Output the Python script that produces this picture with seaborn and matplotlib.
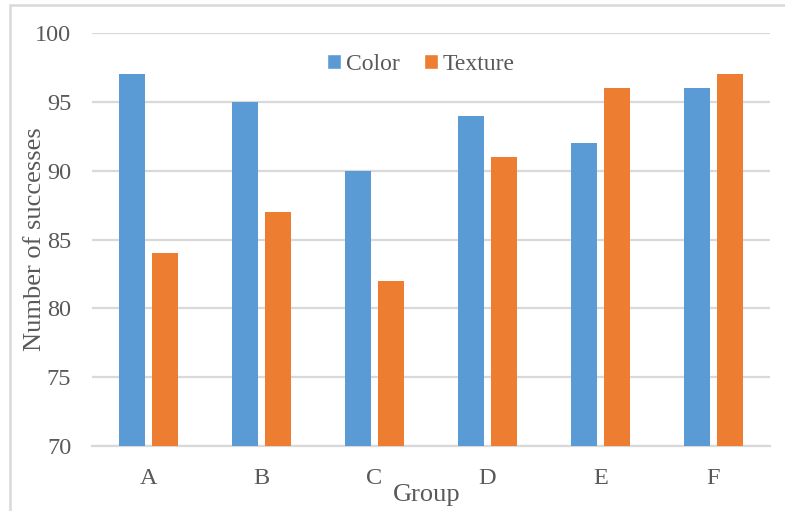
#!/usr/bin/env python3
"""Grouped bar chart: number of successes by group, Color vs Texture."""

import numpy as np
import pandas as pd
import matplotlib.pyplot as plt
import matplotlib.patches as mpatches
import seaborn as sns

# ── data ────────────────────────────────────────────────────────────
groups = ["A", "B", "C", "D", "E", "F"]
color_vals = [97, 95, 90, 94, 92, 96]
texture_vals = [84, 87, 82, 91, 96, 97]
series = ["Color", "Texture"]

df = pd.DataFrame(
    {
        "Group": groups * 2,
        "Series": ["Color"] * len(groups) + ["Texture"] * len(groups),
        "Value": color_vals + texture_vals,
    }
)

# ── style ───────────────────────────────────────────────────────────
palette = {"Color": "#5B9BD5", "Texture": "#ED7D31"}
grid_col = "#D9D9D9"
text_col = "#595959"

sns.set_style("white")
plt.rcParams["font.family"] = ["Liberation Serif", "DejaVu Serif"]

fig = plt.figure(figsize=(7.85, 5.11), dpi=100)
ax = fig.add_axes([92 / 785, 1 - 446 / 511, (770 - 92) / 785, (446 - 33) / 511])

sns.barplot(
    data=df,
    x="Group",
    y="Value",
    hue="Series",
    palette=palette,
    saturation=1,
    width=0.575,
    gap=0.185,
    linewidth=0,
    ax=ax,
    legend=False,
    zorder=3,
)

# bars start from the axis floor (70), as in the original
for p in ax.patches:
    top = p.get_y() + p.get_height()
    p.set_y(70)
    p.set_height(top - 70)

ax.set_ylim(70, 100)
ax.set_xlim(-0.5, len(groups) - 0.5)
ax.set_yticks(np.arange(70, 101, 5))
ax.yaxis.grid(True, color=grid_col, linewidth=1.6, zorder=0)
ax.set_axisbelow(True)

for s in ["top", "right", "left"]:
    ax.spines[s].set_visible(False)
ax.spines["bottom"].set_color(grid_col)
ax.spines["bottom"].set_linewidth(1.6)

ax.tick_params(axis="both", length=0, labelsize=17.5, colors=text_col)
ax.tick_params(axis="y", pad=15)
ax.tick_params(axis="x", pad=15.5)

ax.set_xlabel("Group", fontsize=19, color=text_col)
ax.set_ylabel("Number of successes", fontsize=19, color=text_col)
ax.xaxis.set_label_coords(0.494, -0.093)
ax.yaxis.set_label_coords(-0.068, 0.5)

handles = [mpatches.Patch(facecolor=palette[s], label=s) for s in series]
ax.legend(
    handles=handles,
    loc="upper center",
    bbox_to_anchor=(0.485, 1.0),
    ncol=2,
    frameon=False,
    fontsize=17,
    handlelength=0.6,
    handleheight=0.6,
    handletextpad=0.2,
    columnspacing=1.0,
    labelcolor=text_col,
)

# chart-area border (only left and top edges are visible in the crop)
fig.patches.append(
    mpatches.Rectangle(
        (10 / 785, -0.5),
        2.0,
        1.5 - 5 / 511,
        transform=fig.transFigure,
        fill=False,
        edgecolor=grid_col,
        linewidth=1.8,
    )
)

fig.savefig("out.png", dpi=100)
plt.close(fig)
